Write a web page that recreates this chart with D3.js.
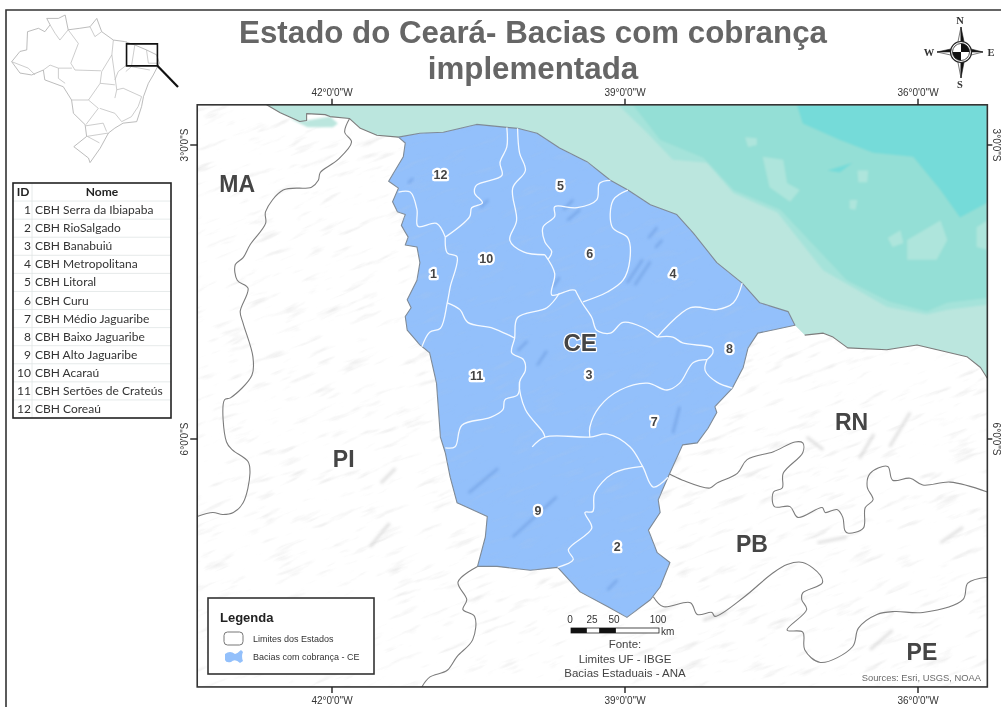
<!DOCTYPE html>
<html lang="pt">
<head>
<meta charset="utf-8">
<title>Estado do Ceará - Bacias com cobrança implementada</title>
<script src="https://cdnjs.cloudflare.com/ajax/libs/d3/7.9.0/d3.min.js"></script>
<style>
html,body{margin:0;padding:0;background:#fff;overflow:hidden}
svg{display:block;filter:blur(.35px);font-family:"Liberation Sans",Arial,sans-serif}
</style>
</head>
<body>
<svg id="chart" width="1001" height="707"></svg>
<script>
// ---------- text ----------
const titleLines = ["Estado do Ceará- Bacias com cobrança", "implementada"];
const basinIds = [1,2,3,4,5,6,7,8,9,10,11,12];
const basinNames = ["CBH Serra da Ibiapaba","CBH RioSalgado","CBH Banabuiú","CBH Metropolitana","CBH Litoral","CBH Curu","CBH Médio Jaguaribe","CBH Baixo Jaguaribe","CBH Alto Jaguaribe","CBH Acaraú","CBH Sertões de Crateús","CBH Coreaú"];
const lonTicks = [-42,-39,-36];
const latTicks = [-3,-6];
const legendLabels = ["Limites dos Estados","Bacias com cobrança - CE"];
const fonteLines = ["Fonte:","Limites UF - IBGE","Bacias Estaduais - ANA"];
const scaleKm = [0,25,50,100];

// ---------- label anchors (lon, lat) ----------
const basinLabelPos = [[-40.96,-4.31],[-39.08,-7.10],[-39.37,-5.34],[-38.51,-4.31],[-39.66,-3.41],[-39.36,-4.11],[-38.70,-5.82],[-37.93,-5.08],[-39.89,-6.73],[-40.42,-4.16],[-40.52,-5.35],[-40.89,-3.30]];
const stateNames = ["MA","PI","RN","PB","PE","CE"];
const statePos = [[-42.97,-3.39],[-41.88,-6.20],[-36.68,-5.82],[-37.70,-7.07],[-35.96,-8.17],[-39.46,-5.02]];

// ---------- map extent (degrees) ----------
const extentLon = [-43.38,-35.29];
const extentLat = [-2.59,-8.53];

// ---------- geography (lon, lat) ----------
const coastWest = [[-42.67,-2.59],[-42.53,-2.67],[-42.33,-2.76],[-42.26,-2.75],[-42.26,-2.68],[-42.07,-2.69],[-42.02,-2.71],[-41.82,-2.73],[-41.71,-2.83],[-41.54,-2.90]];
const ceNorthCoast = [[-41.32,-2.92],[-41.10,-2.88],[-40.86,-2.87],[-40.52,-2.79],[-40.21,-2.82],[-40.10,-2.83],[-39.90,-2.88],[-39.67,-3.03],[-39.39,-3.17],[-39.15,-3.36],[-38.97,-3.46],[-38.74,-3.61],[-38.47,-3.71],[-38.30,-3.90],[-38.06,-4.20],[-37.80,-4.41],[-37.62,-4.61],[-37.33,-4.70],[-37.26,-4.84]];
const ceInlandBorder = [[-37.64,-4.92],[-37.74,-5.07],[-37.79,-5.27],[-37.90,-5.48],[-38.08,-5.67],[-38.06,-5.73],[-38.15,-5.89],[-38.26,-6.04],[-38.41,-6.06],[-38.56,-6.39],[-38.66,-6.62],[-38.64,-6.75],[-38.76,-6.93],[-38.67,-7.16],[-38.54,-7.26],[-38.64,-7.51],[-38.74,-7.64],[-38.98,-7.82],[-39.18,-7.71],[-39.46,-7.56],[-39.69,-7.31],[-39.97,-7.34],[-40.31,-7.30],[-40.51,-7.30],[-40.43,-7.00],[-40.41,-6.79],[-40.72,-6.65],[-40.79,-6.39],[-40.84,-6.14],[-40.89,-5.98],[-40.93,-5.43],[-41.00,-5.12],[-41.10,-5.04],[-41.23,-4.89],[-41.25,-4.75],[-41.19,-4.66],[-41.23,-4.58],[-41.13,-4.38],[-41.10,-4.20],[-41.13,-4.04],[-41.25,-4.02],[-41.22,-3.94],[-41.29,-3.82],[-41.25,-3.71],[-41.33,-3.68],[-41.38,-3.58],[-41.32,-3.44],[-41.42,-3.37],[-41.27,-3.12],[-41.25,-2.98]];
const coastEast = [[-37.16,-4.94],[-36.97,-4.92],[-36.87,-4.96],[-36.72,-5.07],[-36.32,-5.09],[-36.01,-5.04],[-35.50,-5.16],[-35.36,-5.27],[-35.29,-5.38]];
const bayPatch = [[-42.43,-2.73],[-42.25,-2.82],[-41.99,-2.82],[-41.94,-2.78],[-42.02,-2.71],[-42.26,-2.75]];

const borderMaPi = [[-41.82,-2.73],[-41.87,-2.87],[-41.80,-2.97],[-41.94,-3.15],[-42.12,-3.28],[-42.14,-3.36],[-42.21,-3.43],[-42.50,-3.46],[-42.68,-3.68],[-42.68,-3.80],[-42.84,-4.02],[-42.91,-4.15],[-42.99,-4.22],[-42.97,-4.38],[-42.86,-4.46],[-42.94,-4.70],[-42.91,-4.82],[-42.81,-5.16],[-42.82,-5.35],[-43.04,-5.58],[-43.10,-5.60],[-43.08,-6.03],[-43.02,-6.11],[-42.86,-6.23],[-42.84,-6.35],[-42.91,-6.65],[-43.01,-6.75],[-43.12,-6.77],[-43.22,-6.75],[-43.38,-6.79]];
const borderPiPe = [[-40.51,-7.30],[-40.71,-7.46],[-40.62,-7.64],[-40.66,-7.74],[-40.54,-7.81],[-40.56,-8.05],[-40.72,-8.22],[-40.82,-8.36],[-41.00,-8.43],[-41.08,-8.53]];
const borderRnPb = [[-38.56,-6.35],[-38.41,-6.42],[-38.13,-6.50],[-38.06,-6.45],[-37.85,-6.35],[-37.75,-6.21],[-37.48,-6.13],[-37.26,-6.03],[-37.18,-6.04],[-37.18,-6.14],[-37.38,-6.35],[-37.39,-6.50],[-37.48,-6.54],[-37.47,-6.69],[-37.31,-6.69],[-37.23,-6.80],[-36.98,-6.70],[-36.95,-6.75],[-36.83,-6.72],[-36.77,-6.80],[-36.75,-6.93],[-36.72,-6.96],[-36.56,-6.91],[-36.54,-6.70],[-36.46,-6.62],[-36.52,-6.49],[-36.49,-6.35],[-36.31,-6.28],[-36.26,-6.42],[-36.08,-6.40],[-35.95,-6.47],[-35.67,-6.44],[-35.29,-6.54]];
const borderPbPe = [[-38.71,-7.61],[-38.61,-7.71],[-38.33,-7.67],[-38.26,-7.79],[-38.11,-7.77],[-38.08,-7.81],[-37.79,-7.62],[-37.49,-7.37],[-37.34,-7.28],[-37.18,-7.26],[-37.00,-7.39],[-36.98,-7.47],[-37.18,-7.57],[-37.19,-7.64],[-37.14,-7.74],[-37.34,-7.95],[-37.18,-7.97],[-37.16,-8.15],[-37.00,-8.28],[-36.67,-8.12],[-36.61,-7.93],[-36.42,-7.79],[-36.24,-7.76],[-35.95,-7.77],[-35.54,-7.64],[-35.49,-7.47],[-35.29,-7.41]];

const divides = {
  a:[[-40.21,-2.82],[-40.21,-3.02],[-40.28,-3.18],[-40.26,-3.31],[-40.52,-3.41],[-40.54,-3.49],[-40.46,-3.59],[-40.57,-3.64],[-40.59,-3.73],[-40.84,-3.94]],
  b:[[-41.32,-3.48],[-41.20,-3.48],[-41.13,-3.66],[-41.12,-3.83],[-40.93,-3.80],[-40.84,-3.94]],
  c:[[-40.84,-3.94],[-40.82,-4.10],[-40.72,-4.14],[-40.79,-4.45],[-40.82,-4.61],[-40.89,-4.87],[-41.00,-4.91],[-41.08,-5.06]],
  d:[[-40.82,-4.61],[-40.69,-4.68],[-40.61,-4.81],[-40.35,-4.87],[-40.13,-4.97]],
  e:[[-40.10,-2.83],[-40.08,-3.08],[-40.02,-3.26],[-40.15,-3.44],[-40.11,-3.77],[-40.18,-3.97],[-40.04,-4.09],[-39.82,-4.12]],
  f:[[-39.15,-3.36],[-39.26,-3.39],[-39.29,-3.56],[-39.49,-3.64],[-39.72,-3.63],[-39.72,-3.73],[-39.84,-3.84],[-39.82,-3.99],[-39.75,-4.09],[-39.79,-4.17]],
  g:[[-39.82,-4.12],[-39.72,-4.31],[-39.75,-4.53],[-39.56,-4.48],[-39.51,-4.48]],
  h:[[-39.67,-4.51],[-39.80,-4.66],[-40.10,-4.76],[-40.13,-4.97],[-40.16,-5.12],[-40.04,-5.19],[-40.02,-5.30],[-40.08,-5.42],[-40.02,-5.70],[-39.84,-5.93],[-39.82,-5.98]],
  i:[[-38.97,-3.46],[-39.12,-3.56],[-39.13,-3.84],[-38.97,-3.95],[-38.95,-4.17],[-39.02,-4.38],[-39.18,-4.50],[-39.43,-4.60]],
  j:[[-39.51,-4.48],[-39.44,-4.61],[-39.34,-4.76],[-39.29,-4.89],[-39.15,-4.92],[-39.02,-4.81],[-38.82,-4.86],[-38.67,-4.96]],
  k:[[-37.80,-4.41],[-37.89,-4.61],[-38.06,-4.68],[-38.33,-4.66],[-38.67,-4.96]],
  l:[[-38.67,-4.96],[-38.51,-4.96],[-38.41,-5.02],[-38.11,-5.07],[-38.10,-5.12],[-38.16,-5.19]],
  m:[[-38.16,-5.19],[-38.18,-5.30],[-38.06,-5.42],[-37.90,-5.48]],
  n:[[-38.16,-5.19],[-38.30,-5.22],[-38.44,-5.43],[-38.57,-5.50],[-38.77,-5.43],[-39.05,-5.50],[-39.26,-5.67],[-39.36,-5.88],[-39.36,-5.98]],
  o:[[-39.95,-6.08],[-39.82,-5.98],[-39.36,-5.98],[-39.18,-5.95],[-38.95,-6.08],[-38.82,-6.28],[-38.71,-6.49],[-38.56,-6.39]],
  q:[[-40.08,-5.42],[-40.10,-5.55],[-40.23,-5.60],[-40.25,-5.70],[-40.38,-5.78],[-40.67,-5.86],[-40.74,-6.08],[-40.84,-6.09]],
  r:[[-38.82,-6.28],[-39.12,-6.35],[-39.31,-6.55],[-39.33,-6.74],[-39.41,-6.75],[-39.34,-6.91],[-39.58,-7.13],[-39.53,-7.23],[-39.69,-7.31]]
};

// ---------- sea-floor bands and shoals (lon, lat) ----------
const bandLight = [[-39.07,-2.59],[-38.77,-2.88],[-38.51,-3.15],[-38.16,-3.18],[-37.89,-3.49],[-37.44,-3.69],[-36.97,-4.28],[-36.32,-4.65],[-35.91,-4.73],[-35.70,-4.68],[-35.29,-4.63],[-35.29,-2.59]];
const bandMid = [[-38.92,-2.59],[-38.64,-2.95],[-38.20,-3.13],[-37.89,-3.46],[-37.41,-3.66],[-36.73,-4.38],[-36.29,-4.60],[-35.91,-4.70],[-35.70,-4.61],[-35.29,-4.56],[-35.29,-2.59]];
const bandDeep = [[-37.24,-2.59],[-37.18,-2.78],[-36.80,-2.95],[-36.46,-3.08],[-36.05,-3.12],[-35.77,-3.46],[-35.57,-3.74],[-35.29,-3.59],[-35.29,-2.59]];
const shoals = [
  [[-37.59,-3.12],[-37.38,-3.15],[-37.34,-3.39],[-37.21,-3.46],[-37.31,-3.58],[-37.52,-3.43]],
  [[-36.62,-3.26],[-36.51,-3.26],[-36.52,-3.38],[-36.61,-3.38]],
  [[-36.70,-3.56],[-36.62,-3.56],[-36.64,-3.66],[-36.70,-3.65]],
  [[-36.31,-3.95],[-36.18,-3.87],[-36.15,-4.00],[-36.26,-4.04]],
  [[-36.11,-3.97],[-35.77,-3.77],[-35.70,-3.97],[-35.81,-4.17],[-36.11,-4.17]],
  [[-35.40,-3.84],[-35.29,-3.77],[-35.29,-4.07],[-35.40,-4.04]],
  [[-37.77,-2.92],[-37.65,-2.93],[-37.65,-3.00],[-37.74,-3.02]]
];
const deepSlash = [[-36.93,-3.26],[-36.67,-3.18],[-36.80,-3.28]];

// ---------- relief streaks (lon, lat) ----------
const reliefBlue = [
  [[-41.17,-3.34],[-41.22,-3.39]],[[-40.40,-3.56],[-40.48,-3.64]],[[-39.53,-3.56],[-39.63,-3.66]],[[-39.46,-3.66],[-39.59,-3.77]],
  [[-38.67,-3.84],[-38.76,-3.95]],[[-38.62,-3.97],[-38.69,-4.05]],[[-38.82,-4.17],[-38.98,-4.41]],[[-38.74,-4.19],[-38.90,-4.43]],
  [[-39.67,-4.35],[-39.74,-4.45]],[[-39.08,-7.44],[-39.18,-7.54]],[[-39.70,-6.59],[-40.15,-7.00]],[[-38.44,-5.67],[-38.51,-5.94]],
  [[-40.00,-5.00],[-40.10,-5.10]],[[-39.80,-5.10],[-39.90,-5.25]],[[-40.30,-6.30],[-40.60,-6.55]]
];
const reliefGrey = [
  [[-41.61,-7.10],[-41.41,-6.86]],[[-36.29,-6.08],[-36.08,-5.73]],[[-36.97,-6.11],[-37.14,-5.98]],[[-37.03,-7.06],[-36.73,-7.00]],
  [[-36.49,-8.15],[-36.26,-7.95]],[[-35.77,-7.06],[-35.54,-6.90]],[[-38.44,-6.18],[-38.57,-6.31]],[[-38.20,-7.85],[-37.96,-7.77]],
  [[-36.60,-6.20],[-36.45,-5.95]],[[-41.50,-6.45],[-41.35,-6.30]]
];

// ---------- inset: Brazil (lon, lat) ----------
const brazilOutline = [[-74,-7],[-71.8,-4.3],[-70,-3.9],[-69.8,.9],[-66.9,1.8],[-65.2,.9],[-63.8,2.7],[-64.7,4.4],[-61.6,4.4],[-59.8,5.3],[-59,1.4],[-55.9,1.8],[-53.2,2.2],[-51.4,4.4],[-50.1,.9],[-47,-1.3],[-44,-1.7],[-41.3,-2.6],[-38.2,-3.9],[-35.5,-5.2],[-34.8,-7.4],[-36.4,-10.5],[-37.7,-12.7],[-39,-16.2],[-39.5,-18.8],[-40.8,-22.8],[-44.4,-23.2],[-46.6,-24.5],[-48.3,-25.8],[-50.5,-29.8],[-53.2,-33.6],[-53.6,-32.4],[-57.5,-29.4],[-54.1,-26.7],[-54.5,-23.6],[-57.6,-20.6],[-58.1,-17.1],[-60.3,-13.6],[-65.2,-11.8],[-65.6,-9.2],[-68.7,-10.5],[-71.8,-10]];
const brazilBorders = [
  [[-59,1.4],[-56.3,-2.2],[-58.3,-7.4],[-57.2,-9.2],[-50.3,-9.4]],
  [[-74,-7],[-69.6,-8.7],[-67.8,-10.5]],
  [[-65.6,-9.2],[-63.8,-7.9],[-61.6,-8.7],[-58,-8.7]],
  [[-61.6,-8.7],[-61.6,-11.4],[-59.8,-12.7]],
  [[-53.2,2.2],[-51.9,-.4],[-50.1,.9]],
  [[-59,1.4],[-61.2,-1.3],[-62.5,.5],[-63.8,2.7]],
  [[-47,-1.3],[-47.4,-5.2],[-50.1,-9.6]],
  [[-47.4,-5.2],[-46.1,-14.4],[-46.6,-16.6]],
  [[-50.5,-12.7],[-46.6,-13.1]],
  [[-50.1,-9.6],[-50.5,-12.7],[-53.6,-17.1]],
  [[-58.1,-17.1],[-53.6,-17.1],[-51,-19.3]],
  [[-46.1,-14.4],[-44.4,-14],[-39.5,-16.2],[-40.4,-18.8],[-42.2,-21.5],[-44.8,-22.8],[-46.6,-20.6],[-50.6,-19.3]],
  [[-43.5,-1.7],[-43.5,-7.9],[-45.7,-9.6],[-46.6,-11.8]],
  [[-41.3,-2.6],[-42.2,-8.3],[-43.7,-9.6]],
  [[-42.2,-8.3],[-37.3,-9.2]],
  [[-38.2,-3.9],[-37.7,-7.4],[-34.8,-7.4]],
  [[-51,-19.3],[-54.3,-23.6]],
  [[-54.3,-23.9],[-49.7,-23.2],[-48.8,-25.4]],
  [[-54.1,-26.7],[-48.3,-25.8]],
  [[-53.9,-26.7],[-50.7,-28.4]]
];
const insetBox = [[-43.5,-2.3],[-35.3,-2.3],[-35.3,-8.1],[-43.5,-8.1]];

// ---------- scales ----------
const x = d3.scaleLinear().domain([-42,-36]).range([332,918]);
const y = d3.scaleLinear().domain([-3,-6]).range([145,439]);
const ix = d3.scaleLinear().domain([-74,-34.8]).range([11.7,159.3]);
const iy = d3.scaleLinear().domain([5.3,-33.7]).range([15,163]);
const path = d3.line().x(d=>x(d[0])).y(d=>y(d[1]));
const ring = d3.line().x(d=>x(d[0])).y(d=>y(d[1])).curve(d3.curveLinearClosed);
const soft = d3.line().x(d=>x(d[0])).y(d=>y(d[1])).curve(d3.curveCatmullRom.alpha(.5));
const iPath = d3.line().x(d=>ix(d[0])).y(d=>iy(d[1]));
const iRing = d3.line().x(d=>ix(d[0])).y(d=>iy(d[1])).curve(d3.curveLinearClosed);

const svg = d3.select("#chart");
const fx0 = x(extentLon[0]), fx1 = x(extentLon[1]), fy0 = y(extentLat[0]), fy1 = y(extentLat[1]);
const ceOutline = ceNorthCoast.concat(ceInlandBorder);
const sea = coastWest.concat(ceNorthCoast, coastEast, [[extentLon[1],extentLat[0]]]);

// ---------- defs ----------
const defs = svg.append("defs");
defs.append("clipPath").attr("id","frameClip").append("rect").attr("x",fx0).attr("y",fy0).attr("width",fx1-fx0).attr("height",fy1-fy0);
defs.append("clipPath").attr("id","ceClip").append("path").attr("d",ring(ceOutline));
const blur = (id,s)=>defs.append("filter").attr("id",id).attr("x","-30%").attr("y","-30%").attr("width","160%").attr("height","160%").append("feGaussianBlur").attr("stdDeviation",s);
blur("b1",1.6); blur("b2",.9);
function grain(id,c,k,o){
  const f=defs.append("filter").attr("id",id).attr("x","0").attr("y","0").attr("width","100%").attr("height","100%");
  f.append("feTurbulence").attr("type","fractalNoise").attr("baseFrequency","0.03 0.16").attr("numOctaves",3).attr("seed",8);
  f.append("feColorMatrix").attr("type","matrix").attr("values",`0 0 0 0 ${c[0]} 0 0 0 0 ${c[1]} 0 0 0 0 ${c[2]} ${k} 0 0 0 ${o}`);
  f.append("feGaussianBlur").attr("stdDeviation",.6);
}
grain("grainGrey",[.6,.6,.6],3.2,-1.9);
grain("grainBlue",[.36,.55,.88],3.2,-1.82);

// ---------- page frame ----------
svg.append("path").attr("d","M1001,10H6V707").attr("fill","none").attr("stroke","#333").attr("stroke-width",1.6);

// ---------- title ----------
svg.append("g").selectAll("text").data(titleLines).join("text")
  .attr("x",533).attr("y",(d,i)=>43+i*36).attr("text-anchor","middle")
  .attr("font-size",31.3).attr("font-weight","bold").attr("fill","#666").text(d=>d);

// ---------- map ----------
const map = svg.append("g").attr("clip-path","url(#frameClip)");
map.append("rect").attr("x",fx0).attr("y",fy0).attr("width",fx1-fx0).attr("height",fy1-fy0).attr("fill","#fff");
map.append("rect").attr("x",-300).attr("y",-300).attr("width",1700).attr("height",1400)
  .attr("transform","rotate(-22 590 400)").attr("filter","url(#grainGrey)").attr("opacity",.35);
map.append("g").selectAll("path").data(reliefGrey).join("path").attr("d",path)
  .attr("stroke","#c8c8c8").attr("stroke-width",3).attr("fill","none").attr("filter","url(#b1)").attr("opacity",.55);

// sea
map.append("path").attr("d",ring(sea)).attr("fill","#bbe6de");
map.append("path").attr("d",ring(bayPatch)).attr("fill","#bbe6de").attr("filter","url(#b2)");
const seaG = map.append("g").attr("filter","url(#b2)");
seaG.append("path").attr("d",ring(bandLight)).attr("fill","#a5e3da");
seaG.append("path").attr("d",ring(bandMid)).attr("fill","#94dfd6");
seaG.append("path").attr("d",ring(bandDeep)).attr("fill","#75dbd9");
seaG.append("path").attr("d",ring(deepSlash)).attr("fill","#75dbd9");
seaG.append("g").selectAll("path").data(shoals).join("path").attr("d",ring).attr("fill","#aee5dc");

// state borders and coast
map.append("g").selectAll("path").data([coastWest.concat(ceNorthCoast.slice(0,1)),coastEast]).join("path")
  .attr("d",path).attr("fill","none").attr("stroke","#7c7c7c").attr("stroke-width",1.1).attr("stroke-linejoin","round");
map.append("g").selectAll("path").data([borderMaPi,borderPiPe,borderRnPb,borderPbPe]).join("path")
  .attr("d",soft).attr("fill","none").attr("stroke","#7c7c7c").attr("stroke-width",1.1).attr("stroke-linejoin","round");

// Ceará basins
map.append("path").attr("d",ring(ceOutline)).attr("fill","#93c0fb").attr("stroke","#7f8a96").attr("stroke-width",1.1).attr("stroke-linejoin","round");
const ceG = map.append("g").attr("clip-path","url(#ceClip)");
ceG.append("rect").attr("x",-300).attr("y",-300).attr("width",1700).attr("height",1400)
  .attr("transform","rotate(-22 590 400)").attr("filter","url(#grainBlue)").attr("opacity",.45);
ceG.append("g").selectAll("path").data(reliefBlue).join("path").attr("d",path)
  .attr("stroke","#6a99de").attr("stroke-width",2.2).attr("fill","none").attr("filter","url(#b1)").attr("opacity",.7);
map.append("g").selectAll("path").data(Object.values(divides)).join("path")
  .attr("d",soft).attr("fill","none").attr("stroke","#f4f9ff").attr("stroke-width",1.3).attr("stroke-linejoin","round");

// labels
const halo = sel=>sel.attr("paint-order","stroke").attr("stroke","#fff").attr("stroke-linejoin","round");
map.append("g").selectAll("text").data(basinIds).join("text")
  .attr("x",(d,i)=>x(basinLabelPos[i][0])).attr("y",(d,i)=>y(basinLabelPos[i][1])+4.5)
  .attr("text-anchor","middle").attr("font-size",12.5).attr("font-weight","bold").attr("fill","#444")
  .call(halo).attr("stroke-width",4.5).text(d=>d);
map.append("g").selectAll("text").data(stateNames).join("text")
  .attr("x",(d,i)=>x(statePos[i][0])).attr("y",(d,i)=>y(statePos[i][1])+8.5)
  .attr("text-anchor","middle").attr("font-size",(d)=>d==="CE"?24:23).attr("font-weight","bold").attr("fill","#454545")
  .call(halo).attr("stroke-width",(d)=>d==="CE"?2.5:0).text(d=>d);
map.append("text").attr("x",981).attr("y",681).attr("text-anchor","end").attr("font-size",9.4).attr("fill","#6a6a6a").text("Sources: Esri, USGS, NOAA");

// frame and ticks
svg.append("rect").attr("x",fx0).attr("y",fy0).attr("width",fx1-fx0).attr("height",fy1-fy0).attr("fill","none").attr("stroke","#333").attr("stroke-width",1.6);
const fmtLon = d=>`${Math.abs(d)}°0'0"W`, fmtLat = d=>`${Math.abs(d)}°0'0"S`;
const ticks = svg.append("g").attr("stroke","#222").attr("stroke-width",1.4);
lonTicks.forEach(d=>{
  ticks.append("line").attr("x1",x(d)).attr("x2",x(d)).attr("y1",fy0-6).attr("y2",fy0);
  ticks.append("line").attr("x1",x(d)).attr("x2",x(d)).attr("y1",fy1).attr("y2",fy1+6);
});
latTicks.forEach(d=>{
  ticks.append("line").attr("y1",y(d)).attr("y2",y(d)).attr("x1",fx0-7).attr("x2",fx0);
  ticks.append("line").attr("y1",y(d)).attr("y2",y(d)).attr("x1",fx1).attr("x2",fx1+5);
});
const tl = svg.append("g").attr("font-size",10).attr("fill","#333");
lonTicks.forEach(d=>{
  tl.append("text").attr("x",x(d)).attr("y",96).attr("text-anchor","middle").text(fmtLon(d));
  tl.append("text").attr("x",x(d)).attr("y",704).attr("text-anchor","middle").text(fmtLon(d));
});
latTicks.forEach(d=>{
  tl.append("text").attr("transform",`translate(188,${y(d)}) rotate(-90)`).attr("text-anchor","middle").text(fmtLat(d));
  tl.append("text").attr("transform",`translate(992.5,${y(d)}) rotate(90)`).attr("text-anchor","middle").text(fmtLat(d));
});

// ---------- inset ----------
const inset = svg.append("g").attr("filter","url(#insetBlur)");
defs.append("filter").attr("id","insetBlur").append("feGaussianBlur").attr("stdDeviation",.35);
inset.append("path").attr("d",iRing(brazilOutline)).attr("fill","#fff").attr("stroke","#ababab").attr("stroke-width",.8);
inset.append("g").selectAll("path").data(brazilBorders).join("path").attr("d",iPath).attr("fill","none").attr("stroke","#b8b8b8").attr("stroke-width",.7);
svg.append("path").attr("d",iRing(insetBox)).attr("fill","none").attr("stroke","#111").attr("stroke-width",1.6);
svg.append("line").attr("x1",ix(-35.3)).attr("y1",iy(-8.1)).attr("x2",178).attr("y2",87).attr("stroke","#111").attr("stroke-width",2.2);

// ---------- table ----------
const rowH = (418-183)/13, tX0=13, tX1=171, tY0=183, tSplit=32;
const table = svg.append("g").style("font-family","Lato,'Open Sans',sans-serif");
table.append("g").selectAll("line").data(d3.range(1,13)).join("line")
  .attr("x1",tX0).attr("x2",tX1).attr("y1",d=>tY0+d*rowH).attr("y2",d=>tY0+d*rowH).attr("stroke","#dfe5e5").attr("stroke-width",.8);
table.append("line").attr("x1",tSplit).attr("x2",tSplit).attr("y1",tY0).attr("y2",418).attr("stroke","#dfe5e5").attr("stroke-width",.8);
table.append("text").attr("x",23).attr("y",tY0+rowH-5).attr("text-anchor","middle").attr("font-size",12).attr("font-weight","bold").attr("fill","#222").text("ID");
table.append("text").attr("x",102).attr("y",tY0+rowH-5).attr("text-anchor","middle").attr("font-size",12).attr("font-weight","bold").attr("fill","#222").text("Nome");
table.append("g").selectAll("text").data(basinIds).join("text")
  .attr("x",31).attr("y",(d,i)=>tY0+(i+2)*rowH-5).attr("text-anchor","end").attr("font-size",12).attr("fill","#333").text(d=>d);
table.append("g").selectAll("text").data(basinNames).join("text")
  .attr("x",35).attr("y",(d,i)=>tY0+(i+2)*rowH-5).attr("font-size",12).attr("fill","#333").text(d=>d);
table.append("rect").attr("x",tX0).attr("y",tY0).attr("width",tX1-tX0).attr("height",418-tY0).attr("fill","none").attr("stroke","#222").attr("stroke-width",1.6);

// ---------- legend ----------
const lg = svg.append("g");
lg.append("rect").attr("x",208).attr("y",598).attr("width",166).attr("height",76).attr("fill","#fff").attr("stroke","#333").attr("stroke-width",1.6);
lg.append("text").attr("x",220).attr("y",622).attr("font-size",13).attr("font-weight","bold").attr("fill","#222").text("Legenda");
lg.append("rect").attr("x",224).attr("y",632).attr("width",19).attr("height",13).attr("rx",3.5).attr("fill","#fff").attr("stroke","#777").attr("stroke-width",1);
lg.append("path").attr("d","M225,654Q230,650 235,654Q238,653 241,650L243,652Q241,656 243,661L240,663Q235,658 231,662Q226,663 225,660Z").attr("fill","#93c0fb");
lg.append("g").selectAll("text").data(legendLabels).join("text").attr("x",253).attr("y",(d,i)=>642+i*17.5).attr("font-size",9).attr("fill","#333").text(d=>d);

// ---------- scale bar ----------
const kmX = d3.scaleLinear().domain([0,100]).range([571,659]);
const sb = svg.append("g");
sb.append("rect").attr("x",kmX(0)).attr("y",628).attr("width",kmX(100)-kmX(0)).attr("height",5).attr("fill","#fff").attr("stroke","#222").attr("stroke-width",.8);
sb.append("g").selectAll("rect").data([[0,18],[32,51]]).join("rect").attr("x",d=>kmX(d[0])).attr("y",628).attr("width",d=>kmX(d[1])-kmX(d[0])).attr("height",5).attr("fill","#111");
sb.append("g").selectAll("text").data(scaleKm).join("text").attr("x",(d,i)=>[570,592,614,658][i]).attr("y",623).attr("text-anchor","middle").attr("font-size",10).attr("fill","#333").text(d=>d);
sb.append("text").attr("x",661).attr("y",635).attr("font-size",10).attr("fill","#333").text("km");
svg.append("g").selectAll("text").data(fonteLines).join("text").attr("x",625).attr("y",(d,i)=>648+i*14.5).attr("text-anchor","middle").attr("font-size",11.5).attr("fill","#444").text(d=>d);

// ---------- north arrow ----------
const cp = svg.append("g").attr("transform","translate(961,52)");
const needle = (a,b)=>`M${a[0]},${a[1]}L${b[0]},${b[1]}L0,0Z`;
[[0,-25],[22,0],[0,26],[-24,0]].forEach((t,i)=>{
  const w = t[1]===0 ? [[t[0],0],[t[0]>0?8:-8,-3.5],[t[0]>0?8:-8,3.5]] : [[0,t[1]],[-3.5,t[1]>0?8:-8],[3.5,t[1]>0?8:-8]];
  cp.append("path").attr("d",needle(w[0],w[1])).attr("fill",i%2?"#111":"#fff").attr("stroke","#222").attr("stroke-width",.6);
  cp.append("path").attr("d",needle(w[0],w[2])).attr("fill",i%2?"#fff":"#111").attr("stroke","#222").attr("stroke-width",.6);
});
cp.append("circle").attr("r",10.5).attr("fill","#fff").attr("stroke","#222").attr("stroke-width",1.2);
cp.append("circle").attr("r",8.5).attr("fill","#fff").attr("stroke","#222").attr("stroke-width",.8);
cp.append("path").attr("d","M0,0V-8.5A8.5,8.5 0 0 1 8.5,0ZM0,0V8.5A8.5,8.5 0 0 1 -8.5,0Z").attr("fill","#111");
const cpT = svg.append("g").attr("font-size",10.5).attr("font-weight","bold").attr("fill","#333").attr("text-anchor","middle").style("font-family","'Liberation Serif',serif");
[["N",960,24],["S",960,88],["W",929,56],["E",991,56]].forEach(d=>cpT.append("text").attr("x",d[1]).attr("y",d[2]).text(d[0]));
</script>
</body>
</html>
